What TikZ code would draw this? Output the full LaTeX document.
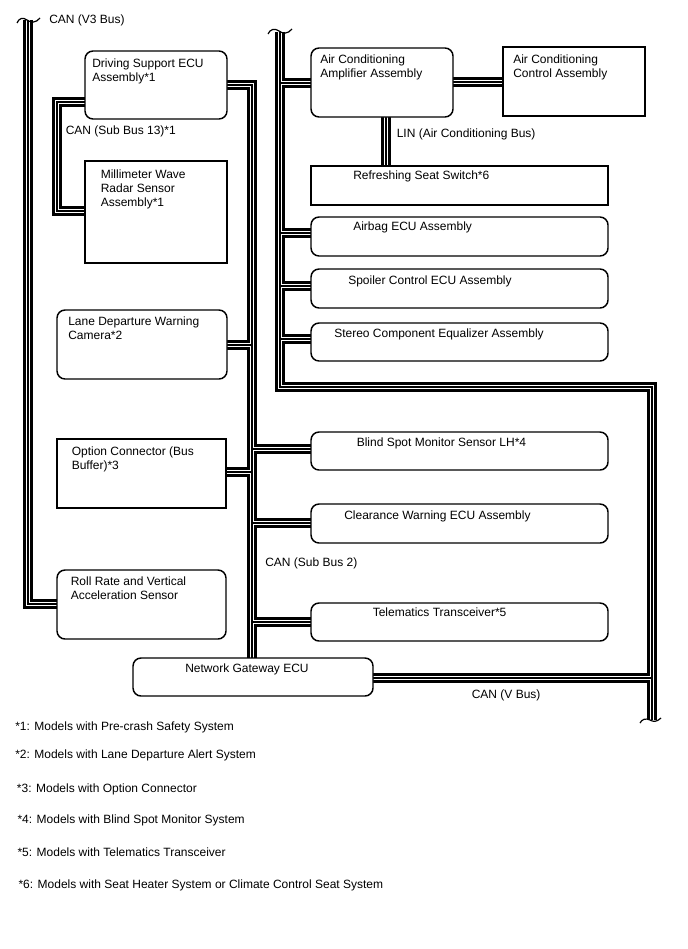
\documentclass[tikz,border=0pt]{standalone}
\usepackage{fontspec}
\setmainfont{Liberation Sans}
\pgfdeclarelayer{background}
\pgfsetlayers{background,main}
\newcommand\mybox[6]{\node[#6, minimum width={(#4-#2)*0.75pt}, minimum height={(#5-#3)*0.75pt}] (#1) at ({(#2+#4)/2},{(#3+#5)/2}) {};}
\begin{document}
\begin{tikzpicture}[x=0.75pt,y=-0.75pt,
  rbox/.style={draw,line width=1.1pt,rounded corners=6pt,fill=white,inner sep=0pt,outer sep=0pt},
  sbox/.style={draw,line width=1.1pt,fill=white,inner sep=0pt,outer sep=0pt},
  txt/.style={anchor=north west,inner sep=0pt,align=left,font=\fontsize{9}{10.2}\selectfont},
  busA/.style={line width=6.9pt,black,line join=miter},
  busB/.style={line width=3.4pt,white,line join=miter},
  busC/.style={line width=1.5pt,black,line join=miter},
  tilde/.style={line width=0.9pt}]
\useasboundingbox (0,0) rectangle (688,949);

% boxes
\mybox{dse}{85}{51}{227}{119}{rbox}
\mybox{mmw}{85}{161}{227}{263}{sbox}
\mybox{lane}{57}{310}{227}{379}{rbox}
\mybox{opt}{57}{439}{226}{508}{sbox}
\mybox{roll}{57}{570}{226}{639}{rbox}
\mybox{gw}{133}{658}{373}{696}{rbox}
\mybox{acamp}{311}{48}{453}{117}{rbox}
\mybox{acctl}{503}{47}{645}{116}{sbox}
\mybox{seat}{311}{166}{608}{205}{sbox}
\mybox{airbag}{311}{217}{608}{256}{rbox}
\mybox{spoiler}{311}{269}{608}{308}{rbox}
\mybox{stereo}{311}{323}{608}{361}{rbox}
\mybox{bsm}{311}{432}{608}{470}{rbox}
\mybox{clr}{311}{504}{608}{543}{rbox}
\mybox{tel}{311}{603}{608}{641}{rbox}

% box texts
\node[txt] (dse-t) at (92,59) {Driving Support ECU\\Assembly*1};
\node[txt] (mmw-t) at (100.5,170) {Millimeter Wave\\Radar Sensor\\Assembly*1};
\node[txt] (lane-t) at (68,316.5) {Lane Departure Warning\\Camera*2};
\node[txt] (opt-t) at (71.5,446.5) {Option Connector (Bus\\Buffer)*3};
\node[txt] (roll-t) at (70.5,576.5) {Roll Rate and Vertical\\Acceleration Sensor};
\node[txt] (gw-t) at (185,664) {Network Gateway ECU};
\node[txt] (acamp-t) at (320,55) {Air Conditioning\\Amplifier Assembly};
\node[txt] (acctl-t) at (513,55) {Air Conditioning\\Control Assembly};
\node[txt] (seat-t) at (353,171) {Refreshing Seat Switch*6};
\node[txt] (airbag-t) at (353,221.5) {Airbag ECU Assembly};
\node[txt] (spoiler-t) at (348,275.5) {Spoiler Control ECU Assembly};
\node[txt] (stereo-t) at (334,328.5) {Stereo Component Equalizer Assembly};
\node[txt] (bsm-t) at (356.5,437.5) {Blind Spot Monitor Sensor LH*4};
\node[txt] (clr-t) at (344,510.5) {Clearance Warning ECU Assembly};
\node[txt] (tel-t) at (372.5,607.5) {Telematics Transceiver*5};

% bus labels
\node[txt] (v3-t) at (49,15) {CAN (V3 Bus)};
\node[txt] (sb13-t) at (65.5,126) {CAN (Sub Bus 13)*1};
\node[txt] (lin-t) at (396.5,128.5) {LIN (Air Conditioning Bus)};
\node[txt] (sb2-t) at (265,557.5) {CAN (Sub Bus 2)};
\node[txt] (vb-t) at (471.5,689.5) {CAN (V Bus)};

% footnotes
\node[txt] (fn1) at (15,721.5) {*1: Models with Pre-crash Safety System};
\node[txt] (fn2) at (15,750) {*2: Models with Lane Departure Alert System};
\node[txt] (fn3) at (16.7,783.3) {*3: Models with Option Connector};
\node[txt] (fn4) at (17.3,814.3) {*4: Models with Blind Spot Monitor System};
\node[txt] (fn5) at (17.3,847.7) {*5: Models with Telematics Transceiver};
\node[txt] (fn6) at (18.3,880) {*6: Models with Seat Heater System or Climate Control Seat System};

% bus end points
\coordinate (v3top) at (28,20);
\coordinate (vtop) at (280,32);
\coordinate (vbot) at (652,720);

\newcommand\allbuses[1]{%
  % CAN V3 bus
  \draw[#1] (v3top) -- (28,604) -- (roll.west |- 0,604);
  % CAN V bus
  \draw[#1] (vtop) -- (280,387) -- (652,387) -- (vbot);
  \draw[#1] (280,83) -- (acamp.west |- 0,83);
  \draw[#1] (280,233) -- (airbag.west |- 0,233);
  \draw[#1] (280,286) -- (spoiler.west |- 0,286);
  \draw[#1] (280,339) -- (stereo.west |- 0,339);
  \draw[#1] (gw.east |- 0,678) -- (652,678);
  % AC link and LIN
  \draw[#1] (acamp.east |- 0,82) -- (acctl.west |- 0,82);
  \draw[#1] (386,0 |- acamp.south) -- (386,0 |- seat.north);
  % Sub bus 13
  \draw[#1] (dse.west |- 0,102) -- (57,102) -- (57,211) -- (mmw.west |- 0,211);
  % Sub bus 2
  \draw[#1] (dse.east |- 0,85) -- (252,85) -- (252,0 |- gw.north);
  \draw[#1] (252,345) -- (lane.east |- 0,345);
  \draw[#1] (252,472) -- (opt.east |- 0,472);
  \draw[#1] (252,449) -- (bsm.west |- 0,449);
  \draw[#1] (252,523) -- (clr.west |- 0,523);
  \draw[#1] (252,622) -- (tel.west |- 0,622);
}

\begin{pgfonlayer}{background}
  \fill[white] (0,0) rectangle (688,949);
  \allbuses{busA}
  \allbuses{busB}
  \allbuses{busC}
\end{pgfonlayer}

% wavy bus ends
\draw[tilde] (17,23) .. controls (19,18) and (23,17) .. (27,20) .. controls (31,23) and (36,23) .. (40,18);
\draw[tilde] (268,34) .. controls (270,29) and (275,28) .. (279,31) .. controls (283,34) and (288,34) .. (292,29);
\draw[tilde] (640,723) .. controls (642,719) and (646,718) .. (650,720) .. controls (653,722) and (657,722) .. (661,718);
\end{tikzpicture}
\end{document}
